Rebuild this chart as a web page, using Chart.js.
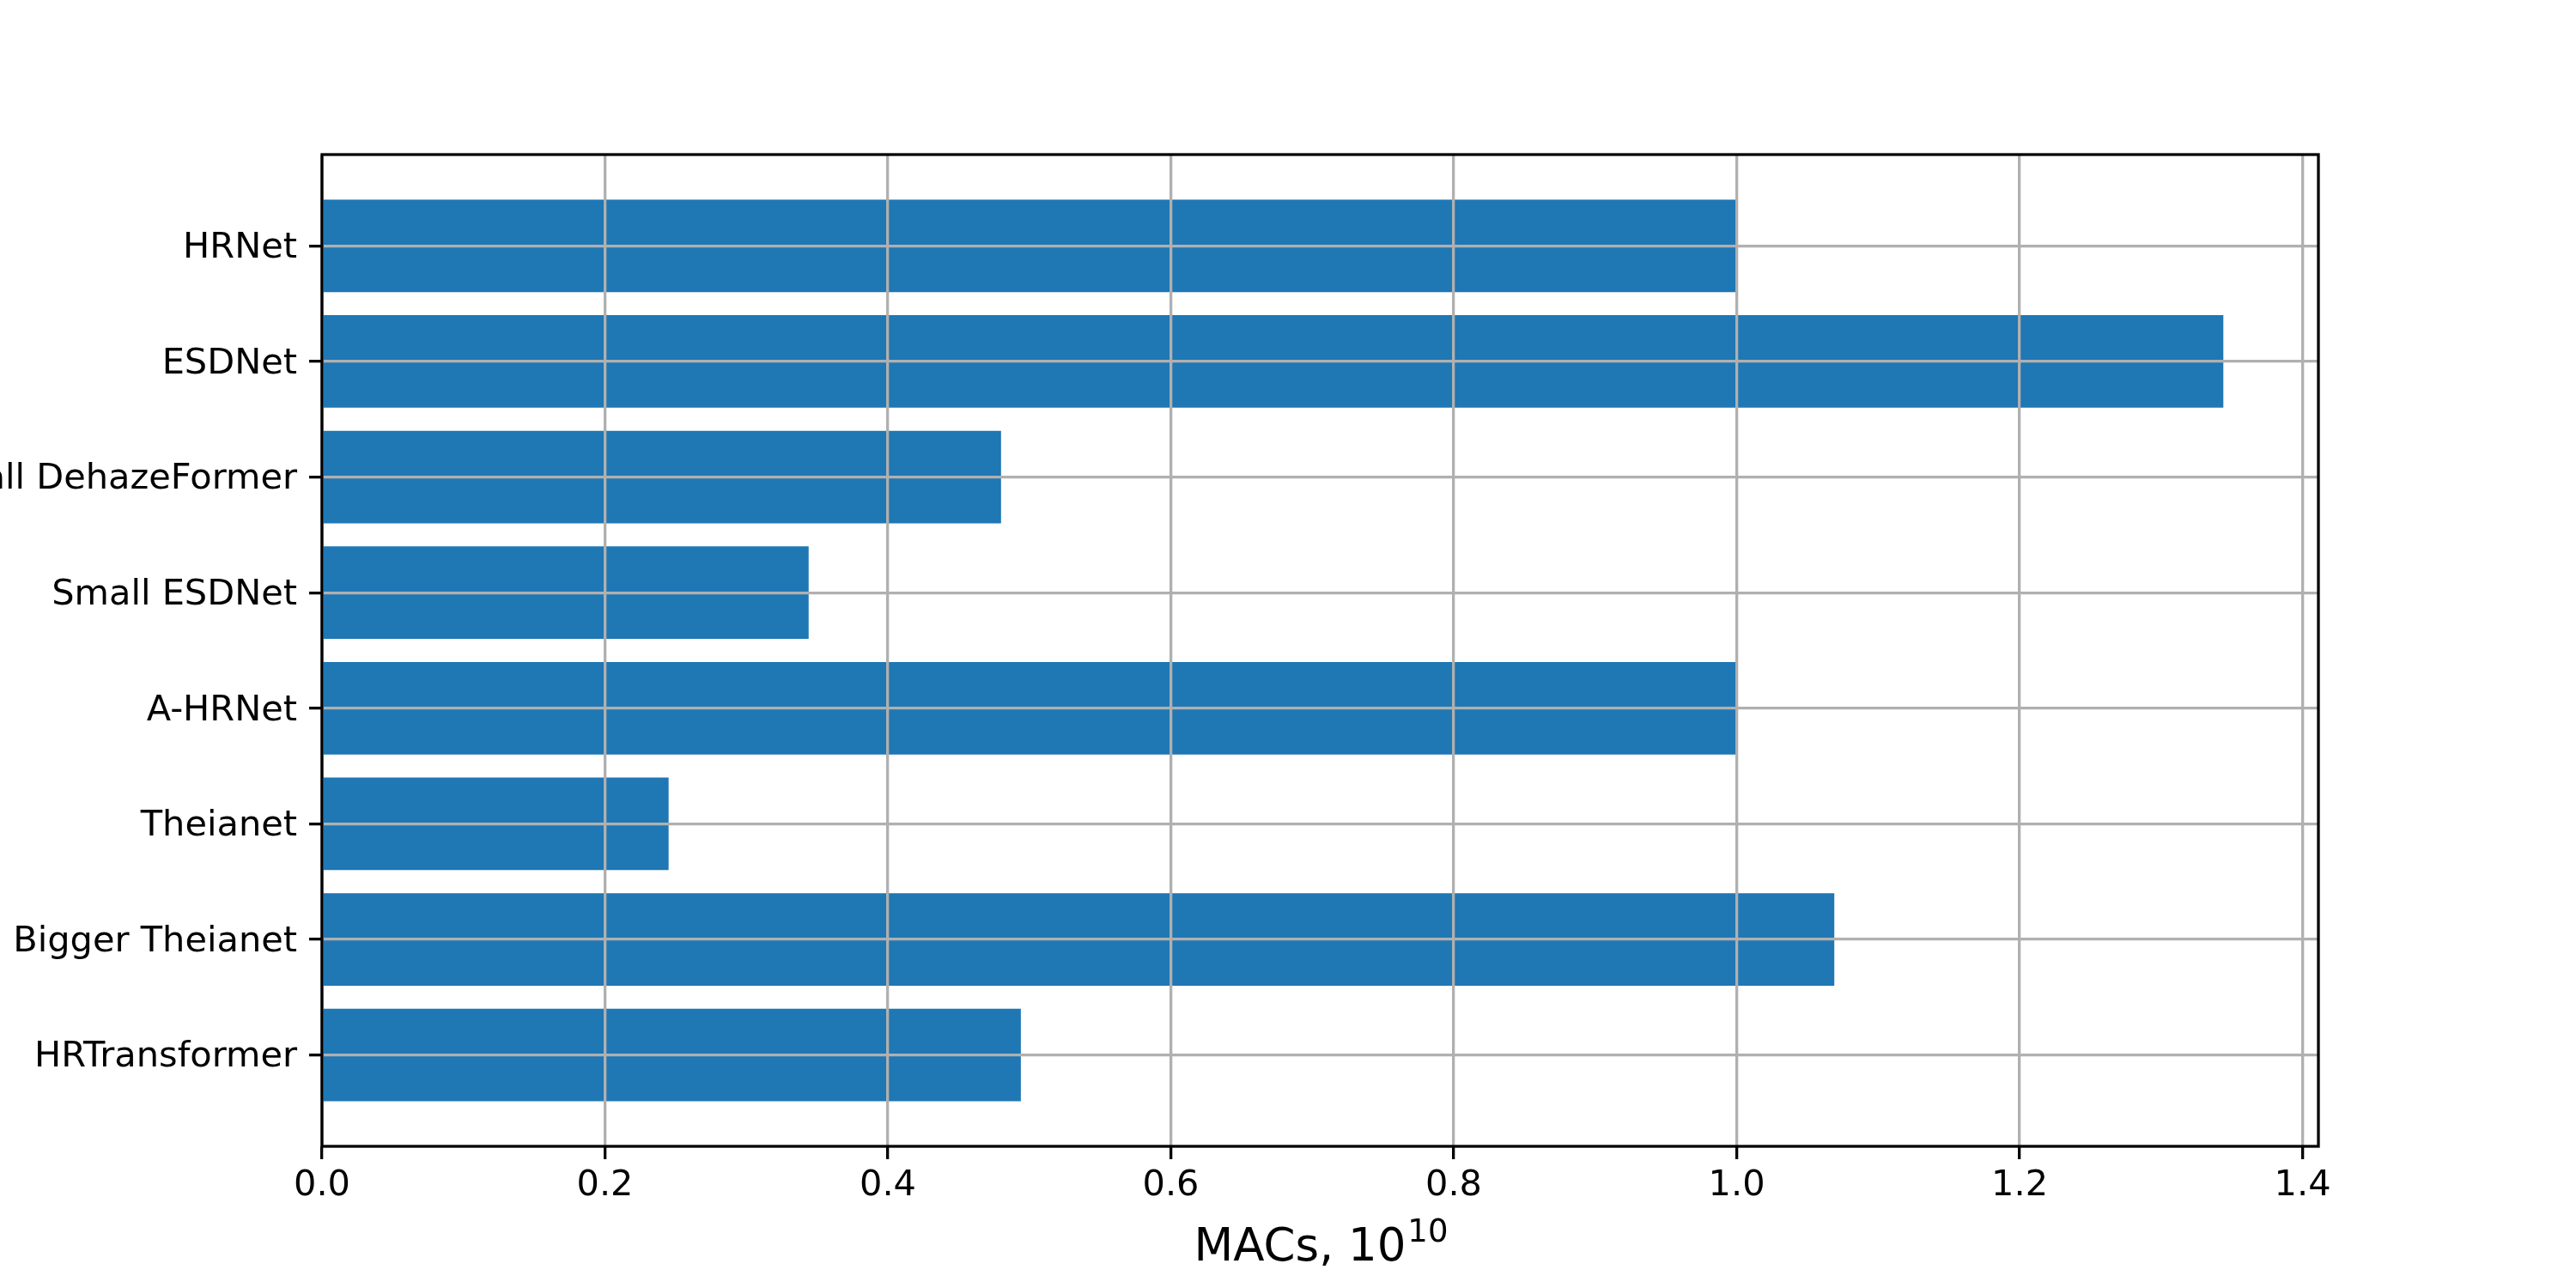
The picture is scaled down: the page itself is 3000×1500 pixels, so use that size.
<!DOCTYPE html>
<html>
<head>
<meta charset="utf-8">
<script src="https://cdn.jsdelivr.net/npm/chart.js@4.4.1/dist/chart.umd.min.js"></script>
<style>
  html, body { margin: 0; padding: 0; background: #ffffff; }
  #wrap { width: 3000px; height: 1500px; }
</style>
</head>
<body>
<div id="wrap"><canvas id="macsChart" width="3000" height="1500"></canvas></div>
<script>
// model names, top to bottom as shown
const models = ['HRNet', 'ESDNet', 'Small DehazeFormer', 'Small ESDNet', 'A-HRNet', 'Theianet', 'Bigger Theianet', 'HRTransformer'];
// MACs in units of 1e10
const macs = [1.0, 1.344, 0.480, 0.344, 1.0, 0.245, 1.069, 0.494];
const xTicks = [0.0, 0.2, 0.4, 0.6, 0.8, 1.0, 1.2, 1.4];
const xTitle = 'MACs, 10';
const xTitleExp = '10';

const colors = {
    bar: '#1f77b4',
    grid: '#b0b0b0',
    text: '#000000'
};

const n = models.length;
const barHeight = 0.8;
// matplotlib style 5% margins
const yLo = -barHeight / 2, yHi = (n - 1) + barHeight / 2;
const yPad = (yHi - yLo) * 0.05;
const xMax = Math.max(...macs) * 1.05;

const points = macs.map((v, i) => ({ x: v, y: n - 1 - i }));
const yPositions = models.map((_, i) => n - 1 - i);

const frame = {
    id: 'frame',
    afterDraw(chart) {
        const { ctx, chartArea: a } = chart;
        ctx.save();
        ctx.strokeStyle = '#000';
        ctx.lineWidth = 3.3;
        ctx.strokeRect(a.left, a.top, a.right - a.left, a.bottom - a.top);

        // x axis title with superscript exponent
        ctx.fillStyle = colors.text;
        ctx.textBaseline = 'alphabetic';
        ctx.textAlign = 'left';
        const big = '53px "DejaVu Sans"', small = '37px "DejaVu Sans"';
        ctx.font = big;
        const w1 = ctx.measureText(xTitle).width;
        ctx.font = small;
        const w2 = ctx.measureText(xTitleExp).width;
        const x0 = (a.left + a.right) / 2 - (w1 + w2) / 2;
        ctx.font = big;
        ctx.fillText(xTitle, x0, 1468);
        ctx.font = small;
        ctx.fillText(xTitleExp, x0 + w1 + 2, 1446);
        ctx.restore();
    }
};

const ctx = document.getElementById('macsChart').getContext('2d');
const macsChart = new Chart(ctx, {
    type: 'bar',
    data: {
        datasets: [{
            label: 'MACs',
            data: points,
            backgroundColor: colors.bar,
            borderWidth: 0,
            barPercentage: barHeight,
            categoryPercentage: 1.0
        }]
    },
    options: {
        indexAxis: 'y',
        responsive: false,
        devicePixelRatio: 1,
        animation: false,
        layout: { padding: { top: 180, right: 300, left: 0, bottom: 0 } },
        plugins: {
            legend: { display: false },
            tooltip: { enabled: false }
        },
        scales: {
            x: {
                type: 'linear',
                min: 0,
                max: xMax,
                afterBuildTicks: (scale) => { scale.ticks = xTicks.map(v => ({ value: v })); },
                afterFit: (scale) => { scale.height = 165; },
                grid: { color: colors.grid, lineWidth: 3.3, z: 1, tickColor: '#000', tickLength: 15, tickWidth: 3.3 },
                border: { display: false },
                ticks: {
                    color: colors.text,
                    padding: 6,
                    maxRotation: 0,
                    autoSkip: false,
                    font: { family: 'DejaVu Sans', size: 41.5 },
                    callback: (v) => v.toFixed(1)
                }
            },
            y: {
                type: 'linear',
                offset: false,
                min: yLo - yPad,
                max: yHi + yPad,
                afterBuildTicks: (scale) => { scale.ticks = yPositions.map(v => ({ value: v })); },
                afterFit: (scale) => { scale.width = 375; },
                grid: { offset: false, color: colors.grid, lineWidth: 3.3, z: 1, tickColor: '#000', tickLength: 15, tickWidth: 3.3 },
                border: { display: false },
                ticks: {
                    color: colors.text,
                    padding: 14,
                    labelOffset: 3,
                    autoSkip: false,
                    font: { family: 'DejaVu Sans', size: 41.5 },
                    callback: (v) => models[n - 1 - v]
                }
            }
        }
    },
    plugins: [frame]
});
</script>
</body>
</html>
